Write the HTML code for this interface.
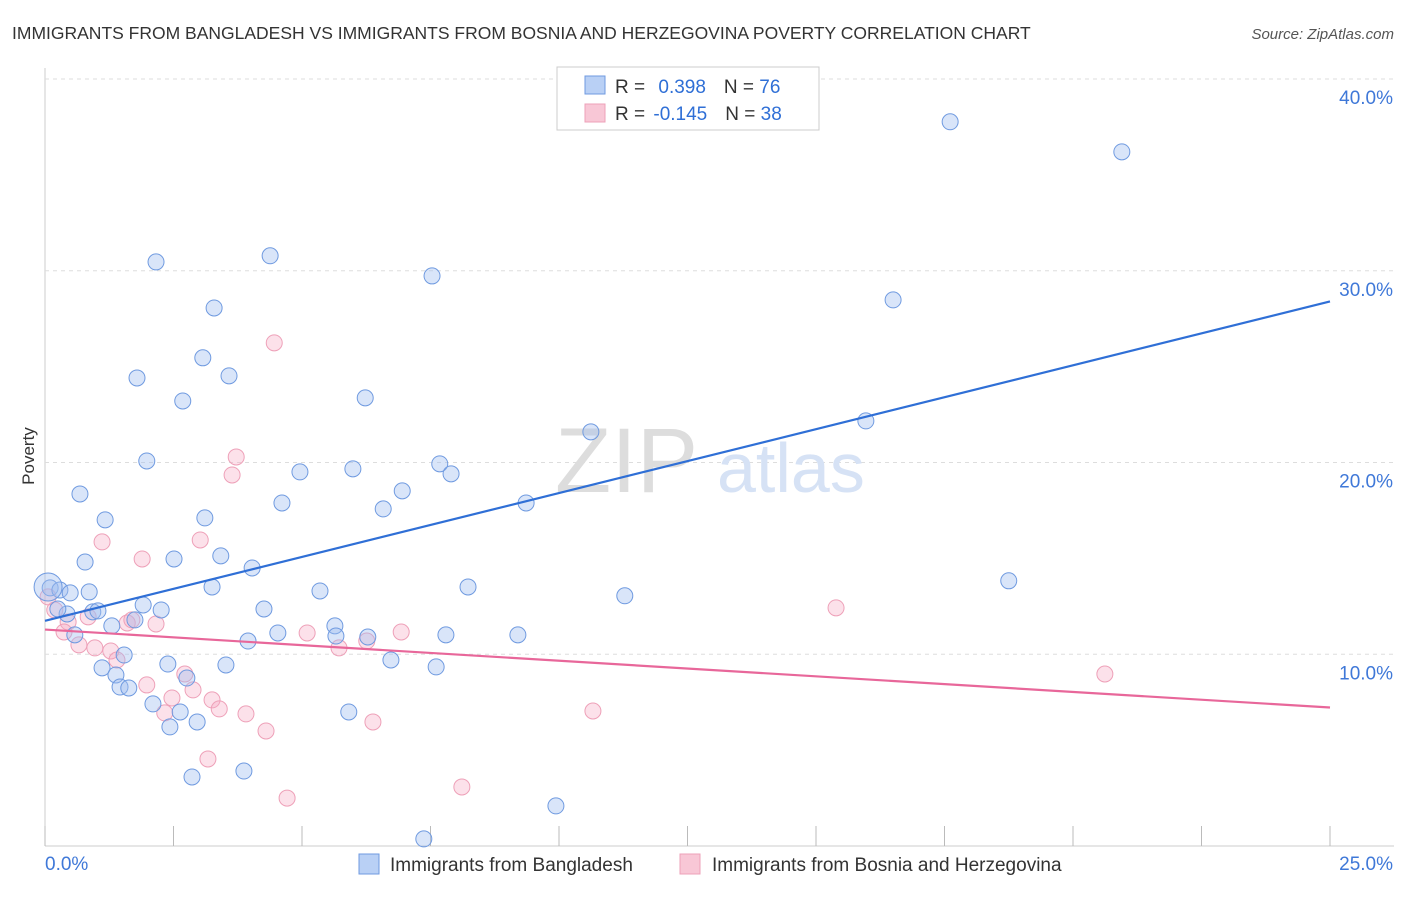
<!DOCTYPE html>
<html><head><meta charset="utf-8"><style>
body{margin:0;background:#fff;font-family:"Liberation Sans",sans-serif;}
svg text{font-family:"Liberation Sans",sans-serif;}
</style></head><body>
<svg id="chart" width="1406" height="892">
<text x="12" y="39" font-size="17.5" fill="#333">IMMIGRANTS FROM BANGLADESH VS IMMIGRANTS FROM BOSNIA AND HERZEGOVINA POVERTY CORRELATION CHART</text>
<text x="1394" y="39" font-size="15" fill="#555" font-style="italic" text-anchor="end">Source: ZipAtlas.com</text>
<text x="34" y="456" font-size="17" fill="#333" transform="rotate(-90 34 456)" text-anchor="middle">Poverty</text>
<g id="grid"></g>
<text x="555" y="492" font-size="92" fill="#ddd" font-family="Liberation Serif">ZIP</text>
<text x="717" y="492" font-size="70" fill="#d6e2f5">atlas</text>
<g id="pts"></g>
<g id="lines"></g>
<g>
<rect x="557" y="67" width="262" height="63" fill="#fff" stroke="#ccc"/>
<rect x="585" y="76" width="20" height="18" fill="#b9d0f5" stroke="#6f9ae0"/>
<rect x="585" y="104" width="20" height="18" fill="#f8c7d6" stroke="#eea0b8"/>
<text x="615" y="93" font-size="19" fill="#333">R = <tspan fill="#2f6fd6" dx="8">0.398</tspan><tspan dx="18" fill="#333">N = </tspan><tspan fill="#2f6fd6">76</tspan></text>
<text x="615" y="120" font-size="19" fill="#333">R = <tspan fill="#2f6fd6" dx="3">-0.145</tspan><tspan dx="18" fill="#333">N = </tspan><tspan fill="#2f6fd6">38</tspan></text>
</g>
<g>
<rect x="359" y="854" width="20" height="20" fill="#b9d0f5" stroke="#6f9ae0"/>
<text x="390" y="871" font-size="19" fill="#333">Immigrants from Bangladesh</text>
<rect x="680" y="854" width="20" height="20" fill="#f8c7d6" stroke="#eea0b8"/>
<text x="712" y="871" font-size="19" fill="#333">Immigrants from Bosnia and Herzegovina</text>
</g>
</svg>
<script>
const xTicks=[0,2.5,5,7.5,10,12.5,15,17.5,20,22.5,25];
const yTicks=[10,20,30,40];
const yTickLabels=["10.0%","20.0%","30.0%","40.0%"];
const xEndLabels=["0.0%","25.0%"];
const blueX=[17.61,20.95,16.50,15.97,18.75,11.28,10.62,7.53,4.38,2.16,3.29,3.07,3.58,1.79,6.23,2.68,1.98,4.96,5.99,7.68,7.90,6.95,0.68,6.58,4.61,9.36,1.17,3.11,3.42,2.51,0.78,4.03,3.25,8.23,5.35,0.10,0.29,0.49,0.86,1.91,2.26,4.26,0.93,1.03,0.43,0.25,5.64,1.30,1.75,4.53,5.66,6.28,7.80,9.20,3.95,0.58,1.54,6.73,2.39,1.11,3.52,7.61,1.38,2.76,1.46,1.63,2.10,2.63,5.91,2.96,2.43,3.87,2.86,9.94,7.37,0.06];
const blueY=[37.77,36.20,28.48,22.17,13.83,13.05,21.60,29.73,30.78,30.46,28.06,25.46,24.52,24.41,23.37,23.21,20.08,19.51,19.67,19.93,19.41,18.52,18.36,17.58,17.89,17.89,17.01,17.11,15.13,14.97,14.81,14.50,13.51,13.51,13.30,13.46,13.35,13.20,13.25,12.57,12.31,12.36,12.21,12.26,12.10,12.36,11.48,11.48,11.79,11.11,10.95,10.90,11.01,11.01,10.69,11.01,9.96,9.70,9.49,9.29,9.44,9.34,8.92,8.76,8.29,8.24,7.41,6.99,6.99,6.47,6.21,3.91,3.60,2.09,0.37,13.51];
const pinkX=[4.46,3.72,3.64,1.11,1.89,3.02,15.39,20.62,0.06,0.19,0.45,0.84,0.37,0.66,0.97,1.60,1.69,2.16,1.28,1.40,6.93,5.10,5.72,6.26,1.98,2.72,2.47,2.88,3.25,3.39,2.33,3.91,4.30,6.38,10.66,3.17,4.71,8.11];
const pinkY=[26.24,20.29,19.35,15.86,14.97,15.96,12.42,8.97,12.99,12.31,11.68,11.95,11.16,10.49,10.33,11.63,11.79,11.58,10.17,9.70,11.16,11.11,10.33,10.69,8.40,8.97,7.72,8.14,7.62,7.15,6.94,6.89,6.00,6.47,7.04,4.54,2.50,3.08];
const NS="http://www.w3.org/2000/svg";
const X0=45,X1=1330,Y0=846,Y40=79;
const sx=v=>X0+(v/25)*(X1-X0);
const sy=v=>Y0-(v/40)*(Y0-Y40);
function mk(tag,attrs,parent){const e=document.createElementNS(NS,tag);for(const k in attrs)e.setAttribute(k,attrs[k]);parent.appendChild(e);return e;}
const grid=document.getElementById('grid');
const ax=mk('line',{x1:X0,y1:68,x2:X0,y2:Y0,stroke:'#ccc'},grid);


const bx=mk('line',{x1:X0,y1:Y0,x2:1394,y2:Y0,stroke:'#ccc'},grid);


yTicks.forEach((t,i)=>{
 const g=mk('line',{x1:X0,y1:sy(t),x2:1394,y2:sy(t),stroke:'#ddd','stroke-dasharray':'4,4'},grid);
 
 
 const tx=mk('text',{x:1393,y:sy(t)+25,'font-size':19,fill:'#3f78d8','text-anchor':'end'},grid);
 tx.textContent=yTickLabels[i];
 
 
});
xTicks.forEach(t=>{
 const l=mk('line',{x1:sx(t),y1:826,x2:sx(t),y2:Y0,stroke:'#bbb'},grid);
 
 
});
const xl0=mk('text',{x:45,y:870,'font-size':19,fill:'#3f78d8'},grid);
xl0.textContent=xEndLabels[0];


const xl1=mk('text',{x:1393,y:870,'font-size':19,fill:'#3f78d8','text-anchor':'end'},grid);
xl1.textContent=xEndLabels[1];


const pts=document.getElementById('pts');
pinkX.forEach((x,i)=>{
 const c=mk('circle',{cx:sx(x),cy:sy(pinkY[i]),r:8,fill:'rgba(245,170,195,0.35)',stroke:'#eea0b8','stroke-width':1},pts);
 
 
});
blueX.forEach((x,i)=>{
 const c=mk('circle',{cx:sx(x),cy:sy(blueY[i]),r:i===blueX.length-1?14:8,fill:'rgba(160,190,240,0.4)',stroke:'#6f9ae0','stroke-width':1},pts);
 
 
});
function fit(xs,ys){const n=xs.length;let mx=0,my=0;for(let i=0;i<n;i++){mx+=xs[i];my+=ys[i];}mx/=n;my/=n;let a=0,b=0;for(let i=0;i<n;i++){a+=(xs[i]-mx)*(ys[i]-my);b+=(xs[i]-mx)**2;}const s=a/b;return [my-s*mx,s];}
const lines=document.getElementById('lines');
const [bi,bs]=fit(blueX,blueY);
const bl=mk('line',{x1:sx(0),y1:sy(bi),x2:sx(25),y2:sy(bi+bs*25),stroke:'#2f6fd6','stroke-width':2.2},lines);


const [pi,ps]=fit(pinkX,pinkY);
const pl=mk('line',{x1:sx(0),y1:sy(pi),x2:sx(25),y2:sy(pi+ps*25),stroke:'#e8679a','stroke-width':2.2},lines);


</script>
</body></html>
